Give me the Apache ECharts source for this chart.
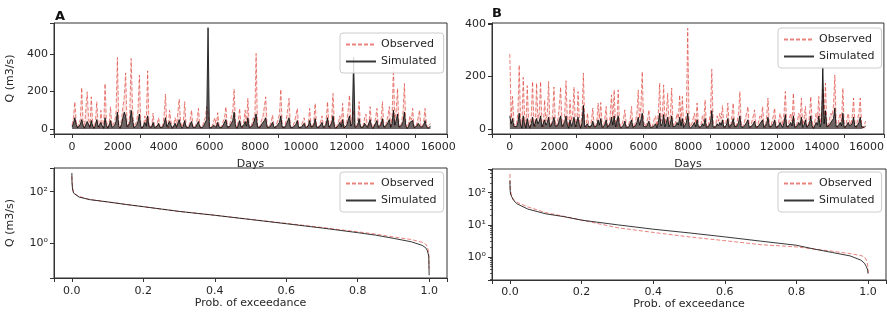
<!DOCTYPE html>
<html><head><meta charset="utf-8">
<script src="https://cdn.jsdelivr.net/npm/echarts@6/dist/echarts.min.js"></script>
<style>html,body{margin:0;padding:0;background:#fff}#c{width:887px;height:320px}</style>
</head><body><div id="c"></div>
<script>
const STEP_DAYS = 60;
const obsA = [
20,60,145,40,10,5,50,222,35,8,
6,199,60,12,172,30,5,40,146,20,
6,100,25,5,243,45,8,30,119,15,
5,40,90,382,30,6,50,120,170,300,
25,6,80,377,120,10,4,40,100,288,
30,5,20,70,30,311,25,4,20,84,
15,3,30,60,15,4,20,70,187,25,
5,100,40,5,20,60,15,5,160,40,
8,30,146,20,4,15,50,101,15,4,
20,50,110,20,4,15,40,60,119,90,
10,4,15,40,60,15,87,20,4,15,
40,60,119,20,4,30,70,100,213,30,
5,40,110,20,5,40,101,30,164,15,
4,30,60,40,404,20,4,20,50,70,
119,172,20,4,20,40,75,15,4,30,
50,80,212,20,4,20,50,60,164,15,
4,20,40,50,110,15,4,20,40,60,
15,4,30,110,20,4,40,137,20,4,
20,40,70,15,4,50,146,20,4,60,
190,30,5,20,40,70,20,137,10,4,
40,100,181,30,60,100,15,4,40,146,
20,4,20,60,80,15,4,119,30,4,
20,60,110,15,4,50,146,20,4,40,
70,119,15,60,332,40,100,217,20,4,
40,90,243,30,4,30,70,50,110,15,
4,30,60,101,15,4,40,110,30,5,
20,30];
const simA = [
10,30,60,25,5,3,25,50,20,4,
3,40,30,8,45,15,3,20,50,10,
3,35,15,3,60,20,4,20,45,8,
3,20,40,90,15,3,25,60,90,70,
12,3,30,100,50,6,3,20,40,80,
15,3,10,35,15,70,12,3,10,35,
8,2,15,30,8,2,10,30,60,12,
3,40,20,3,10,30,8,3,50,20,
4,15,45,10,2,8,25,40,8,2,
10,25,40,10,2,8,20,30,50,542,
6,2,8,20,30,8,35,10,2,8,
20,30,50,10,2,15,30,45,90,15,
3,20,45,10,3,20,40,15,60,8,
2,15,30,20,80,10,2,10,25,35,
45,60,10,2,10,20,35,8,2,15,
25,35,70,10,2,10,25,30,60,8,
2,10,20,25,45,8,2,10,20,30,
8,2,15,45,10,2,20,55,10,2,
10,20,35,8,2,25,60,10,2,30,
70,15,3,10,20,35,10,50,5,2,
20,45,70,15,30,385,8,2,20,55,
10,2,10,30,35,8,2,50,15,2,
10,30,45,8,2,25,55,10,2,20,
35,50,8,30,100,20,45,80,10,2,
20,40,90,15,2,15,35,25,45,8,
2,15,30,40,8,2,20,45,15,3,
10,15];
const obsB = [
286,40,124,30,8,20,60,244,40,10,
197,50,10,165,40,8,50,181,30,8,
175,40,60,181,20,8,111,30,60,181,
20,8,60,160,30,8,40,90,160,30,
8,60,184,40,8,111,30,60,160,20,
8,143,40,8,60,213,20,5,61,15,
5,30,80,15,5,30,99,40,101,15,
5,40,86,15,5,50,130,40,149,20,
8,149,30,8,20,40,73,15,5,20,
40,86,15,5,30,60,149,40,90,219,
30,8,20,40,73,15,5,20,40,50,
10,60,175,30,50,168,20,60,137,20,
50,156,20,8,30,60,40,130,30,124,
15,30,60,384,30,8,20,40,60,20,
99,20,5,20,50,30,111,15,5,30,
60,228,20,5,20,50,30,60,40,89,
15,5,40,99,15,5,50,99,20,5,
30,60,143,20,5,20,40,60,86,15,
5,30,50,73,15,5,30,50,40,86,
15,5,50,118,20,5,30,50,80,15,
5,30,60,40,15,60,143,20,5,40,
60,30,137,15,5,30,60,40,118,15,
40,86,15,5,50,124,30,5,30,60,
40,124,20,60,150,50,175,20,5,40,
60,50,90,206,20,5,40,60,30,156,
15,5,40,60,30,15,50,118,20,5,
40,60,118,20,5,15,30];
const simB = [
50,20,40,10,3,8,25,60,15,3,
50,20,3,40,15,3,20,45,10,3,
40,20,30,50,8,3,35,15,25,45,
8,3,25,45,10,3,15,35,50,10,
3,25,50,15,3,35,10,25,45,8,
3,45,15,3,25,90,8,2,20,8,
2,12,30,8,2,12,35,15,40,6,
2,15,35,6,2,20,45,15,50,8,
3,50,12,3,8,15,30,6,2,8,
15,35,6,2,12,25,45,15,35,60,
10,3,8,15,30,6,2,8,15,20,
4,25,60,12,20,55,8,25,45,8,
20,50,8,3,12,25,15,45,12,40,
6,12,25,60,12,3,8,15,25,8,
35,8,2,8,20,12,40,6,2,12,
25,70,8,2,8,20,12,25,15,35,
6,2,15,40,6,2,20,40,8,2,
12,25,50,8,2,8,15,25,35,6,
2,12,20,30,6,2,12,20,15,35,
6,2,20,45,8,2,12,20,35,6,
2,12,25,15,6,25,55,8,2,15,
25,12,50,6,2,12,25,15,45,6,
15,35,6,2,20,50,12,2,12,25,
15,50,8,25,238,20,70,8,2,15,
25,20,40,80,8,2,15,25,12,60,
6,2,15,25,12,6,20,45,8,2,
15,25,45,8,2,6,12];

// Flow duration curves
const fdcP    = [0,0.0005,0.002,0.005,0.01,0.02,0.05,0.1,0.15,0.2,0.3,0.4,0.5,0.6,0.7,0.8,0.85,0.9,0.95,0.98,0.99,0.995,0.999,1.0];
const fdcObsA = [404,250,150,100,80,65,50,40,32,26,17,12,8.3,5.8,4.0,2.7,2.2,1.7,1.35,1.05,0.9,0.7,0.4,0.1];
const fdcSimA = [542,220,120,88,75,62,49,40,32,26,17,12,8.2,5.6,3.8,2.5,2.0,1.5,1.1,0.8,0.65,0.5,0.3,0.054];
const fdcObsB = [385,200,110,80,62,50,36,24,18.5,14,8.1,5.8,4.2,3.2,2.4,2.05,1.75,1.5,1.26,1.1,1.0,0.8,0.55,0.3];
const fdcSimB = [238,120,90,75,58,45,31,22,18,14,10,7.3,5.6,4.2,3.1,2.3,1.75,1.37,1.07,0.79,0.63,0.5,0.38,0.3];

// Tick labels
const dayTicks  = [0,2000,4000,6000,8000,10000,12000,14000,16000];
const qTicks    = [0,200,400];
const probTicks = [0,0.2,0.4,0.6,0.8,1.0];
const logTicksA = [1,100];
const logTicksB = [1,10,100];

// ---- Styling ----
const FONT = 'DejaVu Sans';
const TXT = '#262626';
const FRAME = '#333';
const OBS_COLOR = 'rgba(220,55,45,0.62)';
const SIM_COLOR = 'rgba(0,0,0,0.78)';
const LOG_A = [0.042, 850];
const LOG_B = [0.19, 550];

function toXY(arr){ return arr.map((v,i)=>[i*STEP_DAYS, v]); }
function zip(p,q){ return p.map((x,i)=>[x,q[i]]); }
const SUP = {'-1':'⁻¹','0':'⁰','1':'¹','2':'²','3':'³'};
function logLabel(v){ const e = Math.round(Math.log10(v)); return '10' + (SUP[String(e)] || e); }

function xAx(g, min, max, ticks, fmt, name, gap, margin){
  return {
    gridIndex:g, type:'value', min:min, max:max,
    axisLine:{show:true, onZero:false, lineStyle:{color:FRAME, width:1}},
    axisTick:{show:true, inside:false, length:4, lineStyle:{color:FRAME, width:1}},
    axisLabel:{customValues:ticks, formatter:fmt, fontFamily:FONT, fontSize:11, color:TXT, margin:margin},
    splitLine:{show:false},
    name:name, nameLocation:'middle', nameGap:gap,
    nameTextStyle:{fontFamily:FONT, fontSize:11, color:TXT}
  };
}
function yAx(g, type, min, max, ticks, fmt, name, split){
  const o = {
    gridIndex:g, type:type, min:min, max:max,
    axisLine:{show:true, onZero:false, lineStyle:{color:FRAME, width:1}},
    axisTick:{show:true, inside:false, length:4, lineStyle:{color:FRAME, width:1}},
    axisLabel:{customValues:ticks, formatter:fmt, fontFamily:FONT, fontSize:11, color:TXT, margin:6},
    splitLine:{show:false}, minorTick:{show:false}
  };
  if (split) o.splitNumber = split;
  if (type === 'log') o.logBase = 10;
  if (name){ o.name = name; o.nameLocation='middle'; o.nameGap=38;
    o.nameTextStyle={fontFamily:FONT, fontSize:11, color:TXT}; }
  return o;
}
// log axis of panel A: its major ticks (every 2 decades) come from an overlay axis in exponent units
const yLogA = yAx(2, 'log', LOG_A[0], LOG_A[1], logTicksA, logLabel, 'Q (m3/s)', 5);
yLogA.axisTick = {show:false};
const yLogATicks = {
  gridIndex:2, type:'value', min:Math.log10(LOG_A[0]), max:Math.log10(LOG_A[1]), splitNumber:2,
  position:'left', axisLine:{show:false, onZero:false}, axisLabel:{show:false}, splitLine:{show:false},
  axisTick:{show:true, inside:false, length:4, lineStyle:{color:FRAME, width:1}}
};
const yLogB = yAx(3, 'log', LOG_B[0], LOG_B[1], logTicksB, logLabel, null, 5);
yLogB.minorTick = {show:true, splitNumber:9, length:2, lineStyle:{color:FRAME, width:0.8}};

function legendAt(left, top){
  return {
    left:left, top:top, orient:'vertical', selectedMode:false,
    data:['Observed','Simulated'],
    itemWidth:30, itemHeight:10, itemGap:6, padding:[6,7,6,5],
    itemStyle:{opacity:0},
    backgroundColor:'rgba(255,255,255,0.85)', borderColor:'#cccccc', borderWidth:1, borderRadius:3,
    textStyle:{fontFamily:FONT, fontSize:11, color:TXT}
  };
}
function lineSeries(name, xi, yi, data, area){
  const obs = name === 'Observed';
  const c = obs ? OBS_COLOR : SIM_COLOR;
  const s = {
    name:name, type:'line', xAxisIndex:xi, yAxisIndex:yi, data:data,
    symbol:'none', silent:true, animation:false, sampling:null, z: obs ? 2 : 3,
    lineStyle:{color:c, width:1, type: obs ? [4,2] : 'solid'},
    itemStyle:{color:c}
  };
  if (area) s.areaStyle = {color: obs ? 'rgba(225,55,45,0.2)' : 'rgba(0,0,0,0.8)', origin:'auto'};
  return s;
}

const fmtInt = v => String(v);
const fmtProb = v => v.toFixed(1);

const option = {
  backgroundColor:'#ffffff',
  animation:false,
  title:[
    {text:'A', left:55, top:10, padding:0, textStyle:{fontFamily:FONT, fontSize:13, fontWeight:'bold', color:'#111'}},
    {text:'B', left:492, top:7, padding:0, textStyle:{fontFamily:FONT, fontSize:13, fontWeight:'bold', color:'#111'}}
  ],
  grid:[
    {left:54, top:23, width:393, height:111, show:true, borderColor:FRAME, borderWidth:1, backgroundColor:'transparent'},
    {left:492, top:23, width:394, height:111, show:true, borderColor:FRAME, borderWidth:1, backgroundColor:'transparent'},
    {left:54, top:168, width:393, height:110, show:true, borderColor:FRAME, borderWidth:1, backgroundColor:'transparent'},
    {left:492, top:169, width:394, height:111, show:true, borderColor:FRAME, borderWidth:1, backgroundColor:'transparent'}
  ],
  xAxis:[
    xAx(0, -790, 16380, dayTicks, fmtInt, 'Days', 25, 8),
    xAx(1, -800, 16780, dayTicks, fmtInt, 'Days', 25, 8),
    xAx(2, -0.05, 1.05, probTicks, fmtProb, 'Prob. of exceedance', 20, 8),
    xAx(3, -0.05, 1.05, probTicks, fmtProb, 'Prob. of exceedance', 18, 7)
  ],
  yAxis:[
    yAx(0, 'value', -27, 567, qTicks, fmtInt, 'Q (m3/s)', 3),
    yAx(1, 'value', -19, 404, qTicks, fmtInt, null, 2),
    yLogA,
    yLogB,
    yLogATicks
  ],
  legend:[ legendAt(340,33), legendAt(778,28), legendAt(340,172), legendAt(778,172) ],
  series:[
    lineSeries('Observed', 0, 0, toXY(obsA), true),
    lineSeries('Simulated', 0, 0, toXY(simA), true),
    lineSeries('Observed', 1, 1, toXY(obsB), true),
    lineSeries('Simulated', 1, 1, toXY(simB), true),
    lineSeries('Observed', 2, 2, zip(fdcP, fdcObsA), false),
    lineSeries('Simulated', 2, 2, zip(fdcP, fdcSimA), false),
    lineSeries('Observed', 3, 3, zip(fdcP, fdcObsB), false),
    lineSeries('Simulated', 3, 3, zip(fdcP, fdcSimB), false)
  ]
};
const chart = echarts.init(document.getElementById('c'), null, {renderer:'canvas'});
chart.setOption(option);
</script></body></html>
